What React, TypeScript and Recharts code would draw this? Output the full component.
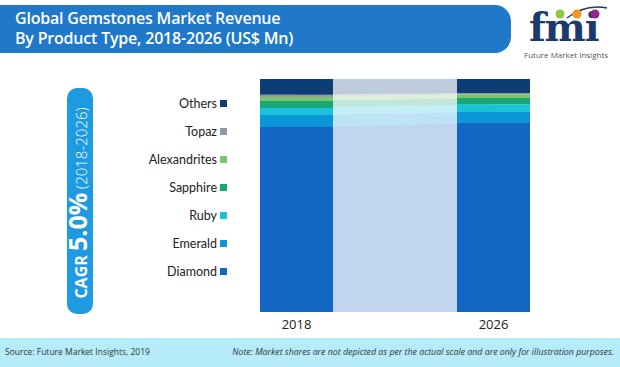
import { ComposedChart, Bar, Area, XAxis, YAxis } from 'recharts';

const years = ['2018', '2026'];
const diamond = [79.4, 81.1];
const emerald = [5.2, 4.7];
const ruby = [3.0, 3.4];
const sapphire = [3.0, 2.6];
const alexandrites = [1.7, 1.7];
const topaz = [0.9, 0.5];
const others = [6.8, 6.0];

const series = [
  { key: 'Diamond', values: diamond, color: '#1366c2' },
  { key: 'Emerald', values: emerald, color: '#0b96d8' },
  { key: 'Ruby', values: ruby, color: '#19c4da' },
  { key: 'Sapphire', values: sapphire, color: '#18a878' },
  { key: 'Alexandrites', values: alexandrites, color: '#7dc46a' },
  { key: 'Topaz', values: topaz, color: '#8f9aa3' },
  { key: 'Others', values: others, color: '#0c3d75' },
];

const data = years.map((year, i) => {
  const row: { [k: string]: string | number } = { year };
  series.forEach((s) => (row[s.key] = s.values[i]));
  return row;
});

const legendItems = [...series].reverse();

function Logo() {
  return (
    <svg width={105} height={64} style={{ position: 'absolute', left: 512, top: 0 }}>
      <text x={17} y={41} fontFamily="'DejaVu Serif', serif" fontWeight="bold" fontSize={39} fill="#1b3a6b" letterSpacing={-1.2}>
        fmi
      </text>
      <path d="M55 18 Q73 4 95 8" stroke="#1b3a6b" strokeWidth={1.5} fill="none" />
      <circle cx={48} cy={14} r={4.5} fill="#8dc63f" />
      <circle cx={65} cy={14} r={4.5} fill="#f7941d" />
      <circle cx={83} cy={14} r={4.5} fill="#92278f" />
      <text x={12} y={58} fontFamily="'Open Sans', sans-serif" fontSize={8} fill="#555">
        Future Market Insights
      </text>
    </svg>
  );
}

export default function App() {
  return (
    <div
      style={{
        position: 'absolute',
        left: 0,
        top: 0,
        width: 620,
        height: 367,
        background: '#ffffff',
        fontFamily: "Lato, 'Open Sans', sans-serif",
        overflow: 'hidden',
      }}
    >
      {/* title banner */}
      <div
        style={{
          position: 'absolute',
          left: -20,
          top: 5,
          width: 531,
          height: 48,
          background: '#1f78c8',
          borderRadius: 16,
        }}
      />
      <div
        style={{
          position: 'absolute',
          left: 15,
          top: 8,
          color: '#ffffff',
          fontFamily: "'Open Sans', sans-serif",
          fontWeight: 600,
          fontSize: 16,
          lineHeight: '20px',
          letterSpacing: -0.2,
        }}
      >
        <div>Global Gemstones Market Revenue</div>
        <div>By Product Type, 2018-2026 (US$ Mn)</div>
      </div>
      <Logo />

      {/* CAGR box */}
      <svg width={50} height={226} style={{ position: 'absolute', left: 57, top: 88, overflow: 'visible' }}>
        <rect x={10} y={0} width={26} height={226} rx={10} fill="#1e9be0" />
        <text
          transform="translate(30,115) rotate(-90)"
          textAnchor="middle"
          fill="#ffffff"
          fontFamily="'Open Sans', sans-serif"
        >
          <tspan fontWeight="bold" fontSize={16}>CAGR </tspan>
          <tspan fontWeight="bold" fontSize={25}>5.0%</tspan>
          <tspan fontSize={15} fontWeight={300}> (2018-2026)</tspan>
        </text>
      </svg>

      {/* legend */}
      {legendItems.map((s, i) => (
        <div
          key={s.key}
          style={{
            position: 'absolute',
            right: 620 - 227,
            top: 103 + i * 28 - 9,
            height: 18,
            display: 'flex',
            alignItems: 'center',
            fontSize: 12.5,
            color: '#222',
            whiteSpace: 'nowrap',
          }}
        >
          <span>{s.key}</span>
          <span style={{ display: 'inline-block', width: 7, height: 7, marginLeft: 3, background: s.color }} />
        </div>
      ))}

      <div style={{ position: 'absolute', left: 0, top: 0 }}>
        <ComposedChart
          width={620}
          height={367}
          data={data}
          margin={{ top: 79, right: 28, left: 198, bottom: 25 }}
        >
          <XAxis
            dataKey="year"
            axisLine={false}
            tickLine={false}
            height={30}
            tick={{ fontSize: 13, fill: '#222', fontFamily: "'Open Sans', sans-serif" }}
          />
          <YAxis hide domain={[0, 100]} />
          {series.map((s) => (
            <Area
              key={'a' + s.key}
              type="linear"
              dataKey={s.key}
              stackId="area"
              stroke="none"
              fill={s.color}
              fillOpacity={0.27}
              isAnimationActive={false}
            />
          ))}
          {series.map((s) => (
            <Bar key={s.key} dataKey={s.key} stackId="bar" barSize={73} fill={s.color} isAnimationActive={false} />
          ))}
        </ComposedChart>
      </div>

      {/* footer */}
      <div
        style={{
          position: 'absolute',
          left: 0,
          top: 338,
          width: 620,
          height: 29,
          background: '#b6ecfa',
          fontFamily: "'Open Sans', sans-serif",
          color: '#333',
        }}
      >
        <div style={{ position: 'absolute', left: 5, top: 8, fontSize: 8.5 }}>Source: Future Market Insights, 2019</div>
        <div style={{ position: 'absolute', right: 6, top: 8, fontSize: 8.8, fontStyle: 'italic' }}>
          Note: Market shares are not depicted as per the actual scale and are only for illustration purposes.
        </div>
      </div>
    </div>
  );
}
